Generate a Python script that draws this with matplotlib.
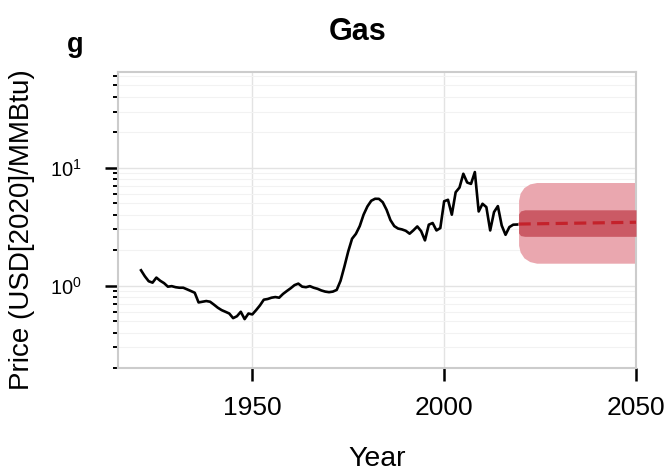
import matplotlib
matplotlib.use("Agg")
import matplotlib.pyplot as plt
from matplotlib.ticker import FixedLocator, LogLocator, NullFormatter

plt.rcParams['font.family'] = ['Liberation Sans', 'DejaVu Sans']
plt.rcParams['mathtext.default'] = 'regular'

# ---- data ----
hist_years = list(range(1921, 2020))
hist_price = [1.35, 1.20, 1.09, 1.06, 1.17, 1.10, 1.05, 0.98, 0.99, 0.97,
              0.96, 0.96, 0.93, 0.90, 0.87, 0.72, 0.73, 0.74, 0.73, 0.69,
              0.65, 0.62, 0.60, 0.58, 0.53, 0.55, 0.60, 0.52, 0.58, 0.57,
              0.62, 0.68, 0.76, 0.77, 0.79, 0.80, 0.79, 0.85, 0.90, 0.95,
              1.01, 1.04, 0.98, 0.97, 0.99, 0.96, 0.94, 0.91, 0.89, 0.88,
              0.89, 0.92, 1.10, 1.45, 1.95, 2.50, 2.75, 3.20, 4.00, 4.70,
              5.25, 5.46, 5.45, 5.10, 4.40, 3.60, 3.20, 3.05, 3.00, 2.92,
              2.76, 2.95, 3.18, 2.90, 2.42, 3.29, 3.40, 2.94, 3.08, 5.20,
              5.35, 4.00, 6.20, 6.80, 8.90, 7.50, 7.30, 9.20, 4.26, 4.95,
              4.64, 2.94, 4.21, 4.73, 3.24, 2.70, 3.14, 3.29, 3.30]

outer_years = [2019.4, 2019.8, 2020.8, 2022.3, 2024.1, 2050]
outer_hi = [5.3, 6.1, 6.8, 7.3, 7.5, 7.5]
outer_lo = [2.2, 1.93, 1.72, 1.6, 1.55, 1.55]

inner_years = [2019.4, 2019.9, 2021.0, 2050]
inner_hi = [4.05, 4.3, 4.4, 4.4]
inner_lo = [2.8, 2.66, 2.62, 2.62]

median_years = [2019.4, 2050]
median_price = [3.33, 3.45]

x_ticks = [1950, 2000, 2050]
y_major = [1, 10]
y_labels = ['$10^{0}$', '$10^{1}$']

# ---- figure ----
fig = plt.figure(figsize=(6.68, 4.74), dpi=100)
ax = fig.add_axes([118/668, 1-368/474, 518/668, 296/474])

ax.fill_between(outer_years, outer_lo, outer_hi, color='#eaa7af', lw=0, zorder=2)
ax.fill_between(inner_years, inner_lo, inner_hi, color='#cb5a65', lw=0, zorder=3)
ax.plot(median_years, median_price, color='#c4222b', lw=2.3,
        linestyle=(0, (3.8, 2.0)), zorder=4)
ax.plot(hist_years, hist_price, color='black', lw=1.9, zorder=5)

ax.set_yscale('log')
ax.set_xlim(1915, 2050)
ax.set_ylim(0.2, 65)

ax.xaxis.set_major_locator(FixedLocator(x_ticks))
ax.set_xticklabels([str(t) for t in x_ticks])
ax.yaxis.set_major_locator(FixedLocator(y_major))
ax.set_yticklabels(y_labels)
ax.yaxis.set_minor_locator(LogLocator(base=10, subs=range(2, 10)))
ax.yaxis.set_minor_formatter(NullFormatter())

ax.tick_params(axis='x', which='major', direction='out', length=9.4, width=1.8,
               color='black', labelsize=19, pad=11)
ax.tick_params(axis='y', which='major', direction='out', length=9.4, width=1.8,
               color='black', labelsize=14.5, pad=17)
ax.tick_params(axis='y', which='minor', direction='out', length=3.6, width=1.4,
               color='black')

ax.grid(True, which='major', color='#e3e3e3', lw=1.0, zorder=0)
ax.grid(True, which='minor', axis='y', color='#f2f2f2', lw=0.8, zorder=0)
ax.set_axisbelow(True)
for s in ax.spines.values():
    s.set_color('#cccccc')
    s.set_linewidth(1.5)

ax.set_xlabel('Year', fontsize=20.5, va='center')
ax.xaxis.set_label_coords(0.5, (368-459)/296)
ax.set_ylabel('Price (USD[2020]/MMBtu)', fontsize=20, va='center')
ax.yaxis.set_label_coords((22-118)/518, (368-230)/296)

fig.text(358/668, 1-40/474, 'Gas', fontsize=22, fontweight='bold',
         ha='center', va='baseline')
fig.text(67/668, 1-52/474, 'g', fontsize=19.5, fontweight='bold',
         ha='left', va='baseline')

fig.savefig('out.png', dpi=100)
